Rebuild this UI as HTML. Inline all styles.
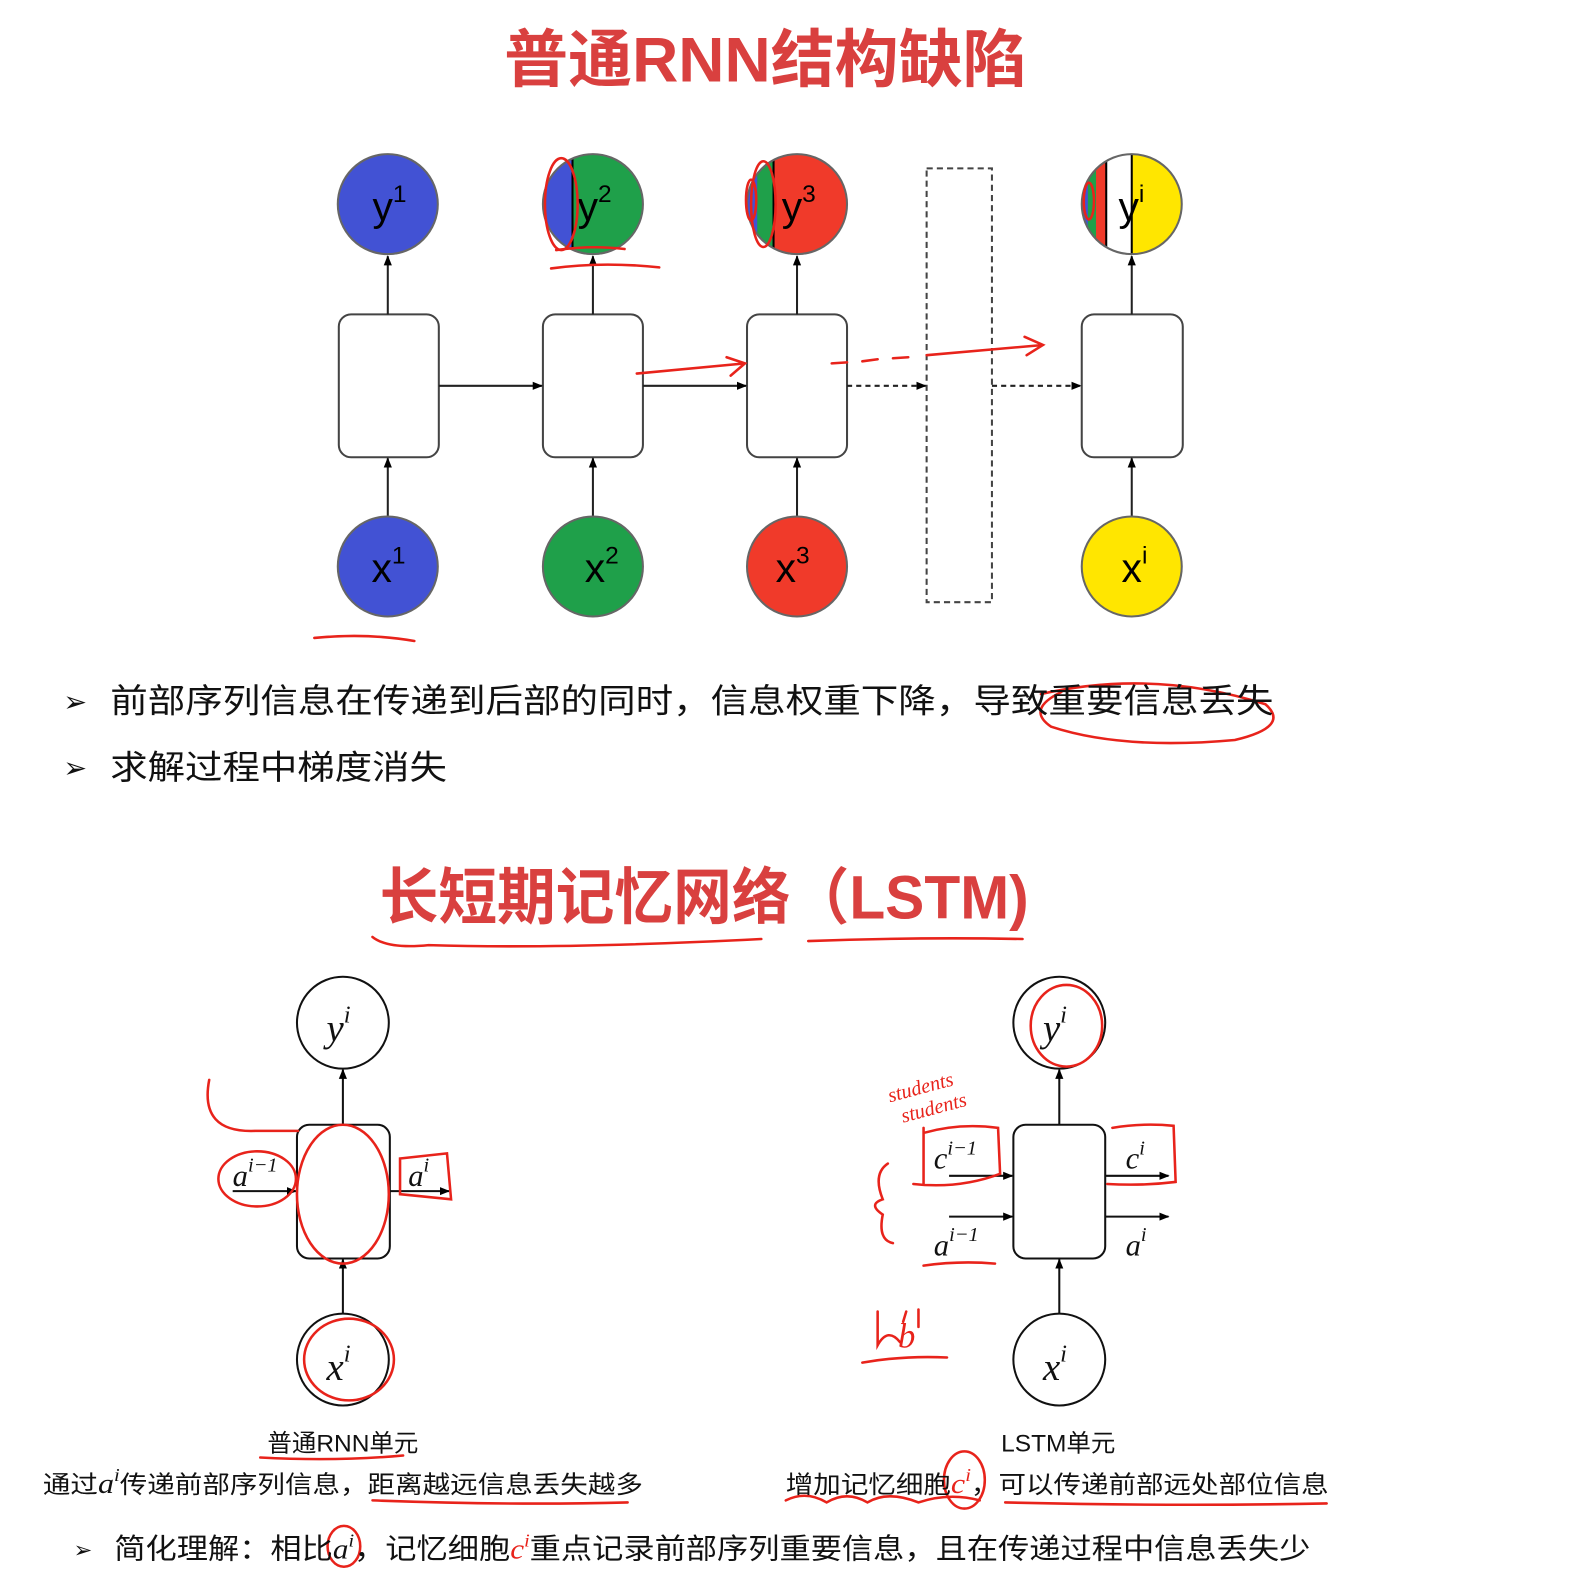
<!DOCTYPE html>
<html><head><meta charset="utf-8"><style>
html,body{margin:0;padding:0;background:#fff;}
svg{display:block;}
text{font-family:"Liberation Sans","Noto Sans CJK SC",sans-serif;}
.m{font-family:"Liberation Serif","Noto Serif CJK SC",serif;font-style:italic;}
</style></head><body>
<svg width="1592" height="1580" viewBox="0 0 1560 1548" preserveAspectRatio="none" xmlns="http://www.w3.org/2000/svg">
<defs>
<marker id="ah" markerWidth="10" markerHeight="10" refX="9" refY="5" orient="auto" markerUnits="userSpaceOnUse"><path d="M0,1 L10,5 L0,9 z" fill="#000"/></marker>
<clipPath id="c2"><circle cx="581" cy="200" r="49"/></clipPath>
<clipPath id="c3"><circle cx="781" cy="200" r="49"/></clipPath>
<clipPath id="c4"><circle cx="1109" cy="200" r="49"/></clipPath>
</defs>
<text x="750" y="80" text-anchor="middle" font-size="62" font-weight="bold" fill="#d9403f" textLength="512" lengthAdjust="spacingAndGlyphs">普通RNN结构缺陷</text>

<!-- y circles -->
<circle cx="380" cy="200" r="49" fill="#4252d4" stroke="#666" stroke-width="2"/>
<g clip-path="url(#c2)"><rect x="530" y="150" width="100" height="100" fill="#1fa04a"/><rect x="530" y="150" width="31" height="100" fill="#4252d4"/><line x1="561" y1="150" x2="561" y2="250" stroke="#000" stroke-width="2"/></g>
<circle cx="581" cy="200" r="49" fill="none" stroke="#666" stroke-width="2"/>
<g clip-path="url(#c3)"><rect x="730" y="150" width="100" height="100" fill="#f03a2a"/><rect x="730" y="150" width="28" height="100" fill="#1fa04a"/><rect x="730" y="150" width="12" height="100" fill="#4252d4"/><line x1="758" y1="150" x2="758" y2="250" stroke="#000" stroke-width="2"/></g>
<circle cx="781" cy="200" r="49" fill="none" stroke="#666" stroke-width="2"/>
<g clip-path="url(#c4)"><rect x="1058" y="150" width="102" height="100" fill="#fff"/><rect x="1109" y="150" width="52" height="100" fill="#ffe600"/><rect x="1058" y="150" width="26" height="100" fill="#f03a2a"/><rect x="1058" y="150" width="16" height="100" fill="#1fa04a"/><rect x="1058" y="150" width="8" height="100" fill="#4252d4"/><line x1="1084" y1="150" x2="1084" y2="250" stroke="#000" stroke-width="2"/><line x1="1109" y1="150" x2="1109" y2="250" stroke="#000" stroke-width="2"/></g>
<circle cx="1109" cy="200" r="49" fill="none" stroke="#666" stroke-width="2"/>
<g font-size="40" fill="#000">
<text x="365" y="216">y<tspan font-size="24" dy="-18">1</tspan></text>
<text x="566" y="216">y<tspan font-size="24" dy="-18">2</tspan></text>
<text x="766" y="216">y<tspan font-size="24" dy="-18">3</tspan></text>
<text x="1096" y="216">y<tspan font-size="24" dy="-18">i</tspan></text>
</g>
<!-- boxes -->
<g fill="#fff" stroke="#444" stroke-width="2">
<rect x="332" y="308" width="98" height="140" rx="12"/>
<rect x="532" y="308" width="98" height="140" rx="12"/>
<rect x="732" y="308" width="98" height="140" rx="12"/>
<rect x="1060" y="308" width="99" height="140" rx="12"/>
</g>
<rect x="908" y="165" width="64" height="425" fill="none" stroke="#444" stroke-width="2" stroke-dasharray="6,4"/>
<!-- arrows -->
<g stroke="#222" stroke-width="2" fill="none" marker-end="url(#ah)">
<line x1="380" y1="308" x2="380" y2="251"/><line x1="581" y1="308" x2="581" y2="251"/><line x1="781" y1="308" x2="781" y2="251"/><line x1="1109" y1="308" x2="1109" y2="251"/>
<line x1="380" y1="506" x2="380" y2="449"/><line x1="581" y1="506" x2="581" y2="449"/><line x1="781" y1="506" x2="781" y2="449"/><line x1="1109" y1="506" x2="1109" y2="449"/>
<line x1="430" y1="378" x2="531" y2="378"/><line x1="630" y1="378" x2="731" y2="378"/>
<line x1="830" y1="378" x2="907" y2="378" stroke-dasharray="5,4"/><line x1="972" y1="378" x2="1059" y2="378" stroke-dasharray="5,4"/>
</g>
<!-- x circles -->
<circle cx="380" cy="555" r="49" fill="#4252d4" stroke="#666" stroke-width="2"/>
<circle cx="581" cy="555" r="49" fill="#1fa04a" stroke="#666" stroke-width="2"/>
<circle cx="781" cy="555" r="49" fill="#f03a2a" stroke="#666" stroke-width="2"/>
<circle cx="1109" cy="555" r="49" fill="#ffe600" stroke="#666" stroke-width="2"/>
<g font-size="40" fill="#000">
<text x="364" y="570">x<tspan font-size="24" dy="-18">1</tspan></text>
<text x="573" y="570">x<tspan font-size="24" dy="-18">2</tspan></text>
<text x="760" y="570">x<tspan font-size="24" dy="-18">3</tspan></text>
<text x="1099" y="570">x<tspan font-size="24" dy="-18">i</tspan></text>
</g>
<!-- red annotations top -->
<g stroke="#e8231b" stroke-width="2.5" fill="none" stroke-linecap="round">
<ellipse cx="550" cy="200" rx="16" ry="45"/>
<path d="M540 263 Q590 256 646 262"/>
<path d="M545 245 Q580 240 612 244"/>
<ellipse cx="748" cy="200" rx="12" ry="42"/><ellipse cx="736" cy="196" rx="5" ry="20"/>
<ellipse cx="1067" cy="197" rx="5" ry="18"/>
<path d="M624 366 L730 356 M712 350 L730 356 L716 368"/>
<path d="M815 356 L830 355 M845 354 L860 352 M875 351 L890 350 M908 348 L1022 338 M1004 330 L1022 338 L1006 348"/>
<path d="M308 625 Q360 620 406 628"/>
<path d="M1020 680 Q1130 655 1240 690 Q1265 712 1210 725 Q1100 735 1030 712 Q1005 695 1040 678"/>
</g>
<!-- bullets -->
<g font-size="33" fill="#111">
<text x="62" y="697" font-size="28">➢</text>
<text x="108" y="698" textLength="1140" lengthAdjust="spacingAndGlyphs">前部序列信息在传递到后部的同时，信息权重下降，导致重要信息丢失</text>
<text x="62" y="762" font-size="28">➢</text>
<text x="108" y="763" textLength="330" lengthAdjust="spacingAndGlyphs">求解过程中梯度消失</text>
</g>
<text x="690" y="900" text-anchor="middle" font-size="60" font-weight="bold" fill="#d9403f" textLength="636" lengthAdjust="spacingAndGlyphs">长短期记忆网络（LSTM)</text>
<g stroke="#e8231b" stroke-width="2.5" fill="none" stroke-linecap="round">
<path d="M365 918 Q380 930 420 926 Q550 930 746 920"/>
<path d="M792 922 Q900 918 1002 920"/>
</g>

<!-- RNN unit -->
<g stroke="#111" stroke-width="2" fill="#fff">
<circle cx="336" cy="1002" r="45"/><circle cx="336" cy="1332" r="45"/>
<rect x="291" y="1102" width="91" height="131" rx="12"/>
<circle cx="1038" cy="1002" r="45"/><circle cx="1038" cy="1332" r="45"/>
<rect x="993" y="1102" width="90" height="131" rx="12"/>
</g>
<g stroke="#111" stroke-width="2" fill="none" marker-end="url(#ah)">
<line x1="336" y1="1102" x2="336" y2="1048"/><line x1="336" y1="1287" x2="336" y2="1234"/>
<line x1="228" y1="1167" x2="290" y2="1167"/><line x1="382" y1="1167" x2="440" y2="1167"/>
<line x1="1038" y1="1102" x2="1038" y2="1048"/><line x1="1038" y1="1287" x2="1038" y2="1234"/>
<line x1="930" y1="1152" x2="992" y2="1152"/><line x1="1083" y1="1152" x2="1145" y2="1152"/>
<line x1="930" y1="1192" x2="992" y2="1192"/><line x1="1083" y1="1192" x2="1145" y2="1192"/>
</g>
<g class="m" font-size="38" fill="#111">
<text x="320" y="1020" class="m">y<tspan font-size="24" dy="-18">i</tspan></text>
<text x="320" y="1352" class="m">x<tspan font-size="24" dy="-18">i</tspan></text>
<text x="228" y="1162" class="m" font-size="30">a<tspan font-size="20" dy="-14">i−1</tspan></text>
<text x="400" y="1162" class="m" font-size="30">a<tspan font-size="20" dy="-14">i</tspan></text>
<text x="1022" y="1020" class="m">y<tspan font-size="24" dy="-18">i</tspan></text>
<text x="1022" y="1352" class="m">x<tspan font-size="24" dy="-18">i</tspan></text>
<text x="915" y="1145" class="m" font-size="30">c<tspan font-size="20" dy="-14">i−1</tspan></text>
<text x="1103" y="1145" class="m" font-size="30">c<tspan font-size="20" dy="-14">i</tspan></text>
<text x="915" y="1230" class="m" font-size="30">a<tspan font-size="20" dy="-14">i−1</tspan></text>
<text x="1103" y="1230" class="m" font-size="30">a<tspan font-size="20" dy="-14">i</tspan></text>
</g>
<g stroke="#e8231b" stroke-width="2.5" fill="none" stroke-linecap="round">
<path d="M205 1058 Q195 1110 250 1108 L292 1108"/>
<ellipse cx="252" cy="1155" rx="38" ry="27"/>
<ellipse cx="336" cy="1170" rx="45" ry="68"/>
<path d="M392 1135 L438 1130 L442 1175 L392 1170 Z"/>
<ellipse cx="342" cy="1332" rx="44" ry="40"/>
<ellipse cx="1045" cy="1005" rx="35" ry="40"/>
<path d="M905 1105 L905 1160 M905 1110 Q940 1100 978 1105 L980 1150 Q940 1165 895 1160"/>
<path d="M1090 1105 Q1120 1100 1150 1103 L1152 1158 Q1120 1162 1085 1160"/>
<path d="M870 1140 Q855 1150 865 1175 Q850 1180 865 1190 Q860 1215 875 1218"/>
<path d="M905 1240 Q940 1235 975 1238"/>
<path d="M845 1335 Q885 1328 928 1330"/>
<path d="M860 1285 L860 1318 Q870 1300 882 1315 M885 1295 L888 1285 M900 1283 L900 1300"/>
<path d="M255 1428 Q330 1432 395 1426"/>
<path d="M365 1470 Q500 1475 615 1472"/>
<path d="M770 1470 Q790 1460 810 1472 Q830 1460 850 1472 Q870 1460 900 1472 Q930 1462 960 1470"/>
<ellipse cx="945" cy="1450" rx="20" ry="28"/>
<path d="M985 1472 Q1150 1476 1300 1473"/>
<ellipse cx="337" cy="1515" rx="16" ry="20"/>
</g>
<text x="872" y="1080" font-size="20" fill="#e8231b" class="m" transform="rotate(-15 872 1080)">students</text>
<text x="885" y="1100" font-size="20" fill="#e8231b" class="m" transform="rotate(-15 885 1100)">students</text>
<text x="880" y="1320" font-size="34" fill="#e8231b" class="m">b</text>

<g font-size="24" fill="#111">
<text x="336" y="1422" text-anchor="middle">普通RNN单元</text>
<text x="1037" y="1422" text-anchor="middle">LSTM单元</text>
<text x="42" y="1463" textLength="588" lengthAdjust="spacingAndGlyphs">通过<tspan class="m" font-size="28">a</tspan><tspan class="m" font-size="18" dy="-12">i</tspan><tspan dy="12">传递前部序列信息，距离越远信息丢失越多</tspan></text>
<text x="770" y="1463" textLength="532" lengthAdjust="spacingAndGlyphs">增加记忆细胞<tspan class="m" font-size="28" fill="#e8231b">c</tspan><tspan class="m" font-size="18" dy="-12" fill="#e8231b">i</tspan><tspan dy="12">，可以传递前部远处部位信息</tspan></text>
<text x="72" y="1526" font-size="22">➢</text>
<text x="112" y="1527" font-size="28" textLength="1172" lengthAdjust="spacingAndGlyphs">简化理解：相比<tspan class="m">a</tspan><tspan class="m" font-size="18" dy="-12">i</tspan><tspan dy="12">，记忆细胞</tspan><tspan class="m" fill="#e8231b">c</tspan><tspan class="m" font-size="18" dy="-12" fill="#e8231b">i</tspan><tspan dy="12">重点记录前部序列重要信息，且在传递过程中信息丢失少</tspan></text>
</g>
</svg>
</body></html>
